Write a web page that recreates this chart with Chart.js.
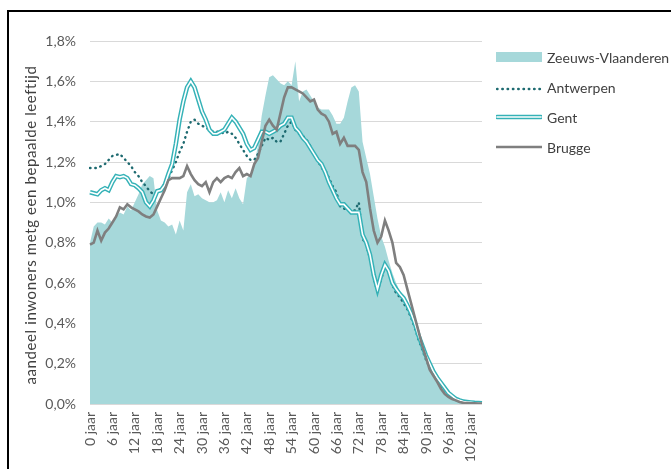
<!DOCTYPE html>
<html>
<head>
<meta charset="utf-8">
<script src="https://cdn.jsdelivr.net/npm/chart.js@4.4.1/dist/chart.umd.min.js"></script>
<style>
  html, body { margin: 0; padding: 0; background: #fff; }
  #wrap { position: relative; width: 671px; height: 469px; overflow: hidden; font-family: Lato, sans-serif; }
  #frame { position: absolute; left: 7px; top: 10px; width: 700px; height: 500px; border-left: 2px solid #000; border-top: 2px solid #000; }
  #box { position: absolute; left: 0; top: 0; width: 671px; height: 469px; }
  #ytitle { position: absolute; left: 30px; top: 225px; transform: translate(-50%, -50%) rotate(-90deg); white-space: nowrap; font-size: 15px; letter-spacing: 0.6px; color: #404040; }
  .item { position: absolute; left: 496px; height: 20px; display: flex; align-items: center; white-space: nowrap; font-size: 14px; color: #404040; }
  .item svg { width: 46px; height: 12px; margin-right: 5px; }
</style>
</head>
<body>
<div id="wrap">
  <div id="box"><canvas id="chart"></canvas></div>
  <div id="frame"></div>
  <div id="ytitle">aandeel inwoners metg een bepaalde leeftijd</div>
  <div class="item" style="top:47px"><svg viewBox="0 0 46 12"><rect x="0" y="1" width="46" height="10" fill="#A6D8DA"/></svg>Zeeuws-Vlaanderen</div>
  <div class="item" style="top:77px"><svg viewBox="0 0 46 12"><line x1="1" y1="8" x2="45" y2="8" stroke="#1D6A70" stroke-width="2.4" stroke-dasharray="0.5 4.8" stroke-linecap="round"/></svg>Antwerpen</div>
  <div class="item" style="top:107px"><svg viewBox="0 0 46 12"><line x1="1" y1="6" x2="45" y2="6" stroke="#35B2B7" stroke-width="4.5" stroke-linecap="round"/><line x1="1" y1="6" x2="45" y2="6" stroke="#fff" stroke-width="1.6" stroke-linecap="round"/></svg>Gent</div>
  <div class="item" style="top:137px"><svg viewBox="0 0 46 12"><line x1="0" y1="6" x2="46" y2="6" stroke="#7F7F7F" stroke-width="2.6"/></svg>Brugge</div>
</div>
<script>
// leeftijden 0 t/m 105 jaar
const ages = Array.from({ length: 106 }, (_, i) => i);
const ageLabels = ages.map(a => a + ' jaar');
const yTicks = [0, 0.2, 0.4, 0.6, 0.8, 1.0, 1.2, 1.4, 1.6, 1.8];

// aandeel (%) per leeftijd
const zeeuwsVlaanderen = [
  0.80, 0.88, 0.90, 0.90, 0.89, 0.92, 0.90, 0.93, 0.95, 0.94,
  0.98, 0.96, 1.00, 1.04, 1.09, 1.11, 1.13, 1.12, 0.96, 0.91,
  0.90, 0.88, 0.89, 0.84, 0.91, 0.86, 1.05, 1.09, 1.03, 1.04,
  1.02, 1.01, 1.00, 1.00, 1.01, 1.05, 1.00, 1.06, 1.02, 1.07,
  1.02, 0.99, 1.12, 1.14, 1.19, 1.28, 1.43, 1.53, 1.62, 1.63,
  1.61, 1.59, 1.58, 1.60, 1.58, 1.70, 1.50, 1.55, 1.56, 1.53,
  1.50, 1.47, 1.46, 1.46, 1.46, 1.43, 1.39, 1.39, 1.42, 1.50,
  1.57, 1.58, 1.55, 1.30, 1.22, 1.14, 1.03, 0.92, 0.83, 0.78,
  0.71, 0.65, 0.60, 0.56, 0.53, 0.50, 0.45, 0.41, 0.34, 0.28,
  0.24, 0.19, 0.16, 0.14, 0.10, 0.08, 0.055, 0.04, 0.022, 0.015,
  0.01, 0.008, 0.006, 0.005, 0.004, 0.003
];
const antwerpen = [
  1.17, 1.17, 1.17, 1.18, 1.19, 1.21, 1.23, 1.235, 1.24, 1.22,
  1.20, 1.18, 1.15, 1.13, 1.10, 1.08, 1.055, 1.04, 1.05, 1.07,
  1.09, 1.12, 1.16, 1.20, 1.25, 1.29, 1.35, 1.40, 1.41, 1.39,
  1.38, 1.37, 1.36, 1.35, 1.35, 1.35, 1.34, 1.35, 1.34, 1.32,
  1.29, 1.26, 1.23, 1.21, 1.21, 1.24, 1.28, 1.32, 1.31, 1.32,
  1.30, 1.30, 1.34, 1.38, 1.40, 1.36, 1.34, 1.33, 1.31, 1.28,
  1.24, 1.21, 1.17, 1.16, 1.12, 1.08, 1.05, 0.98, 0.97, 0.96,
  0.96, 0.96, 1.00, 0.82, 0.79, 0.72, 0.62, 0.56, 0.62, 0.68,
  0.66, 0.59, 0.55, 0.53, 0.50, 0.47, 0.43, 0.38, 0.32, 0.27,
  0.22, 0.18, 0.145, 0.115, 0.09, 0.07, 0.05, 0.035, 0.022, 0.015,
  0.01, 0.008, 0.006, 0.005, 0.004, 0.003
];
const gent = [
  1.05, 1.045, 1.04, 1.06, 1.07, 1.06, 1.10, 1.13, 1.125, 1.13,
  1.12, 1.09, 1.085, 1.07, 1.05, 1.00, 0.98, 1.01, 1.055, 1.06,
  1.085, 1.14, 1.19, 1.29, 1.41, 1.50, 1.57, 1.60, 1.57, 1.51,
  1.45, 1.41, 1.36, 1.34, 1.34, 1.35, 1.36, 1.39, 1.42, 1.40,
  1.37, 1.34, 1.29, 1.26, 1.27, 1.31, 1.35, 1.35, 1.34, 1.35,
  1.36, 1.38, 1.39, 1.42, 1.42, 1.37, 1.35, 1.32, 1.30, 1.27,
  1.24, 1.21, 1.19, 1.15, 1.10, 1.06, 1.02, 0.99, 0.99, 0.97,
  0.95, 0.95, 0.95, 0.84, 0.80, 0.74, 0.64, 0.57, 0.64, 0.69,
  0.66, 0.60, 0.57, 0.545, 0.525, 0.49, 0.45, 0.40, 0.34, 0.29,
  0.24, 0.20, 0.16, 0.13, 0.105, 0.08, 0.055, 0.04, 0.025, 0.018,
  0.012, 0.01, 0.008, 0.006, 0.005, 0.004
];
const brugge = [
  0.79, 0.80, 0.86, 0.81, 0.85, 0.87, 0.90, 0.93, 0.975, 0.965,
  0.99, 0.975, 0.965, 0.955, 0.94, 0.93, 0.925, 0.94, 0.98, 1.02,
  1.06, 1.11, 1.12, 1.12, 1.12, 1.13, 1.18, 1.14, 1.11, 1.09,
  1.08, 1.10, 1.05, 1.10, 1.12, 1.10, 1.12, 1.13, 1.12, 1.15,
  1.17, 1.13, 1.14, 1.13, 1.19, 1.22, 1.30, 1.38, 1.41, 1.38,
  1.36, 1.44, 1.52, 1.57, 1.57, 1.56, 1.55, 1.54, 1.52, 1.50,
  1.51, 1.46, 1.44, 1.43, 1.40, 1.34, 1.35, 1.29, 1.32, 1.28,
  1.28, 1.28, 1.26, 1.15, 1.10, 0.97, 0.86, 0.80, 0.83, 0.91,
  0.86, 0.80, 0.70, 0.68, 0.64, 0.57, 0.50, 0.43, 0.36, 0.29,
  0.23, 0.17, 0.14, 0.11, 0.075, 0.05, 0.035, 0.025, 0.018, 0.01,
  0.006, 0.005, 0.004, 0.003, 0.002, 0.002
];

const tickFont = { family: 'Lato', size: 14 };

new Chart(document.getElementById('chart'), {
  type: 'line',
  data: {
    labels: ageLabels,
    datasets: [
      { label: 'Zeeuws-Vlaanderen', data: zeeuwsVlaanderen, fill: 'origin', backgroundColor: '#A6D8DA', borderWidth: 0, order: 10 },
      { label: 'Antwerpen', data: antwerpen, borderColor: '#1D6A70', borderWidth: 2.4, borderDash: [0.5, 4.8], borderCapStyle: 'round', fill: false, order: 4 },
      { label: 'Gent', data: gent, borderColor: '#35B2B7', borderWidth: 4.5, fill: false, order: 3 },
      { label: 'Gent_binnen', data: gent, borderColor: '#ffffff', borderWidth: 1.6, fill: false, order: 2 },
      { label: 'Brugge', data: brugge, borderColor: '#7F7F7F', borderWidth: 2.6, fill: false, order: 1 }
    ]
  },
  options: {
    responsive: true,
    maintainAspectRatio: false,
    animation: false,
    layout: { padding: { left: 0, right: 189, top: 41, bottom: 0 } },
    elements: { point: { radius: 0 }, line: { tension: 0 } },
    plugins: { legend: { display: false }, tooltip: { enabled: false } },
    scales: {
      x: {
        offset: false,
        z: 1,
        grid: { display: false, drawTicks: false },
        border: { display: false },
        ticks: {
          autoSkip: false, minRotation: 90, maxRotation: 90, padding: 8,
          color: '#595959', font: tickFont,
          callback: (v, i) => (i % 6 === 0 ? ageLabels[i] : '')
        },
        afterFit: s => { s.height = 65; }
      },
      y: {
        min: 0,
        max: 1.8,
        z: 1,
        afterBuildTicks: s => { s.ticks = yTicks.map(v => ({ value: v })); },
        ticks: {
          padding: 14, color: '#595959', font: tickFont,
          callback: v => v.toFixed(1).replace('.', ',') + '%'
        },
        grid: { color: 'rgba(0,0,0,0.15)', drawTicks: false, lineWidth: 1 },
        border: { display: false },
        afterFit: s => { s.width = 90; }
      }
    }
  }
});
</script>
</body>
</html>
